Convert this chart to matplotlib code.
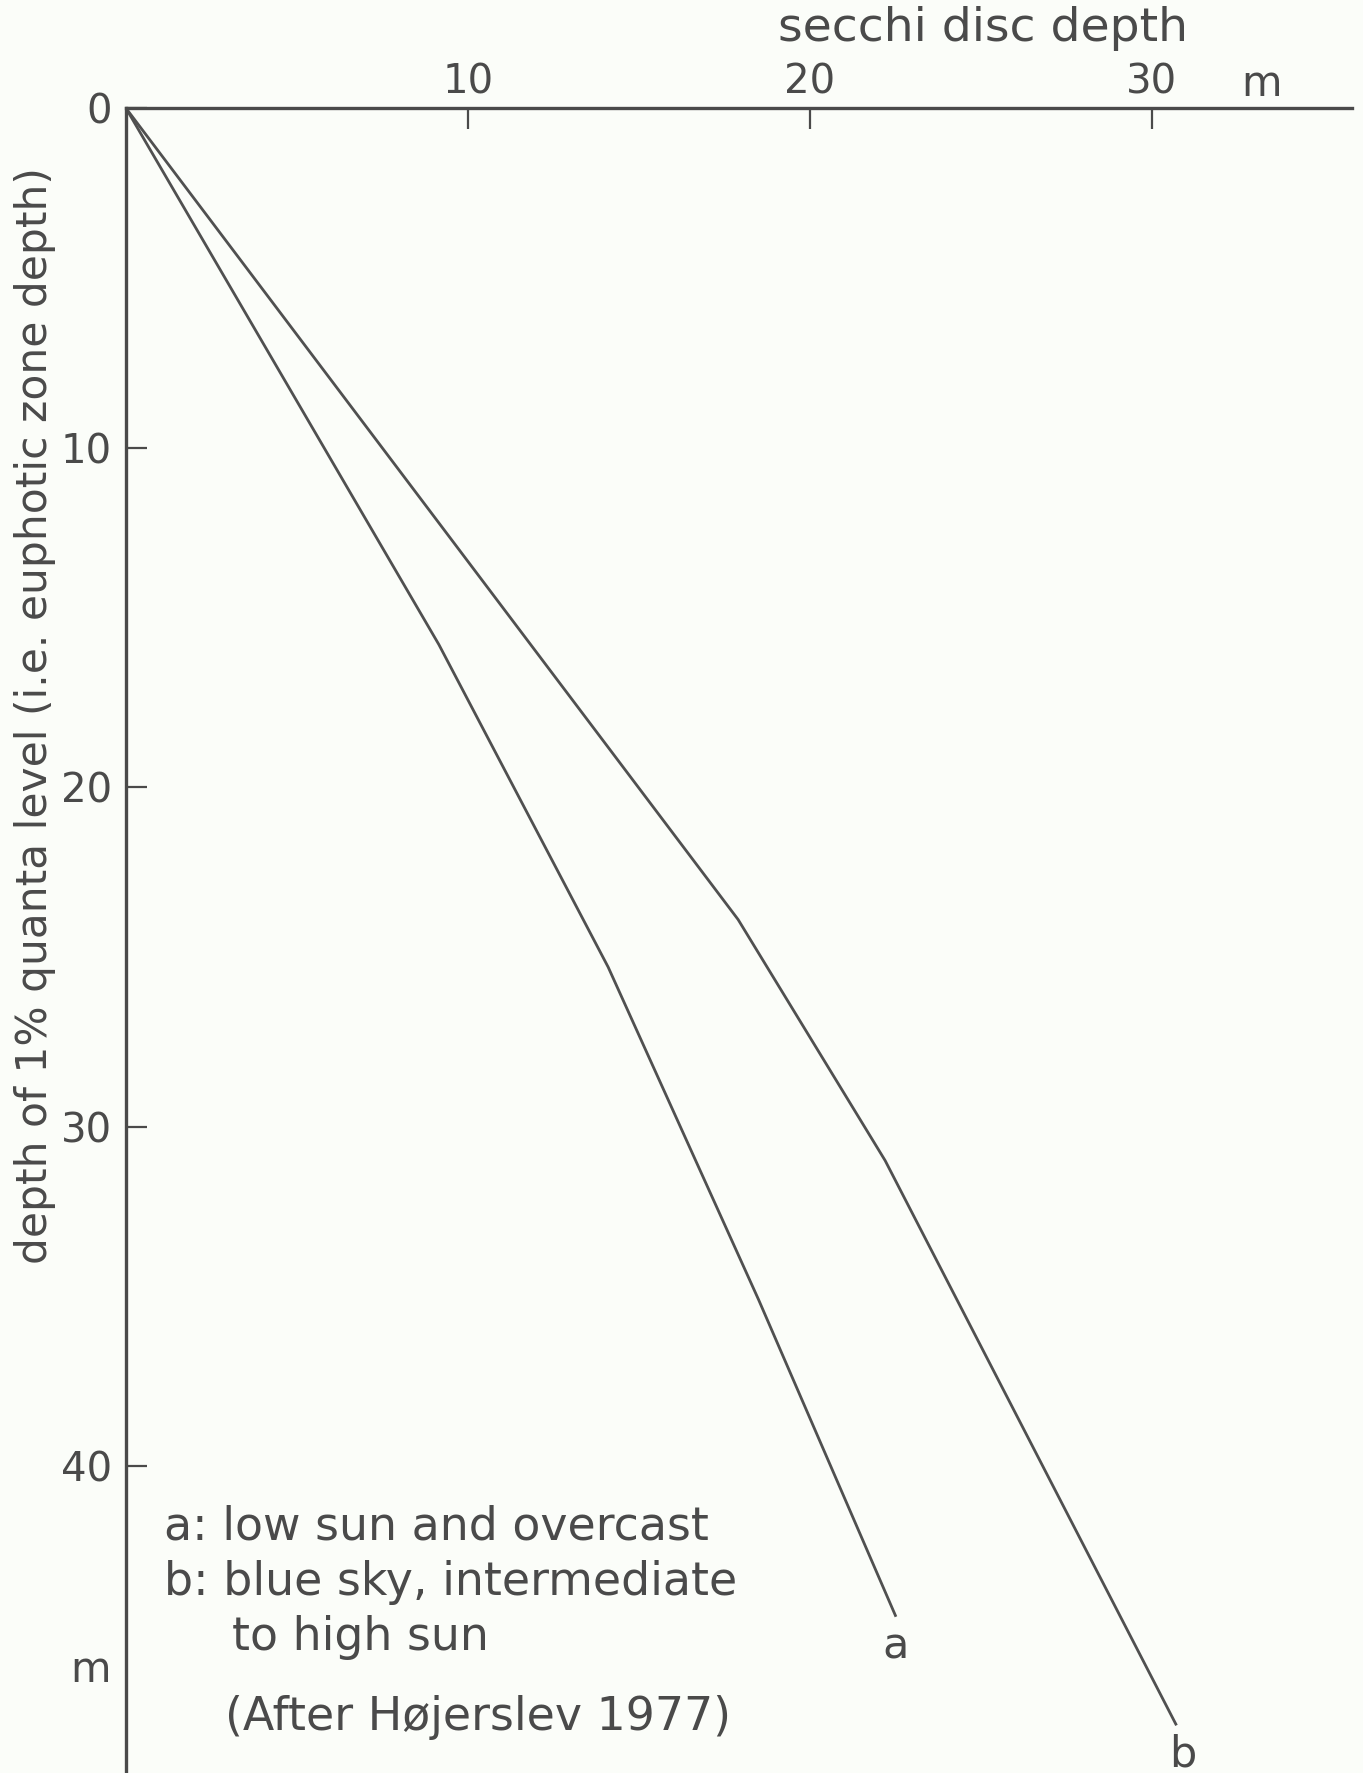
import matplotlib.pyplot as plt

# Datos
secchi_a = [0, 9.15, 14.1, 18.5, 22.5]
depth_a = [0, 15.8, 25.3, 35.1, 44.4]
secchi_b = [0, 17.9, 22.2, 30.7]
depth_b = [0, 23.9, 31.0, 47.6]
x_ticks = [10, 20, 30]
y_ticks = [0, 10, 20, 30, 40]
legend_lines = ['a: low sun and overcast', 'b: blue sky, intermediate']
legend_cont = 'to high sun'
source = '(After Højerslev 1977)'

ink = '#4a4a4a'
bg = '#fbfdf9'

fig = plt.figure(figsize=(13.63, 17.73), dpi=100, facecolor=bg)
ax = fig.add_axes([0.0924, 0.0, 0.8995, 0.939])
ax.set_facecolor(bg)

ax.plot(secchi_a, depth_a, color='#505050', lw=2.0, solid_joinstyle='miter')
ax.plot(secchi_b, depth_b, color='#505050', lw=2.0, solid_joinstyle='miter')

ax.set_xlim(0, 35.85)
ax.set_ylim(49.04, 0)

for s in ['right', 'bottom']:
    ax.spines[s].set_visible(False)
for s in ['top', 'left']:
    ax.spines[s].set_color(ink)
    ax.spines[s].set_linewidth(2.4)

ax.xaxis.tick_top()
ax.set_xticks(x_ticks)
ax.set_xticklabels([str(v) for v in x_ticks])
ax.set_yticks(y_ticks)
ax.set_yticklabels([str(v) for v in y_ticks])
ax.tick_params(axis='both', direction='in', length=15, width=1.6, color=ink,
               labelsize=29, labelcolor=ink)
ax.tick_params(axis='x', pad=4)
ax.tick_params(axis='y', pad=10)

# unidades
ax.text(33.2, -0.72, 'm', fontsize=30, color=ink, ha='center', va='center')
ax.text(-1.05, 46.0, 'm', fontsize=30, color=ink, ha='center', va='center')

ax.set_ylabel('depth of 1% quanta level (i.e. euphotic zone depth)', fontsize=30.5, color=ink)
ax.yaxis.label.set_va('center')
ax.yaxis.set_label_coords(-0.074, 0.635)
fig.text(0.721, 0.984, 'secchi disc depth', fontsize=34, color=ink, ha='center', va='center')

# etiquetas de curvas
ax.text(22.5, 45.3, 'a', fontsize=31, color=ink, ha='center', va='center')
ax.text(30.9, 48.5, 'b', fontsize=31, color=ink, ha='center', va='center')

# leyenda
for i, line in enumerate(legend_lines):
    ax.text(1.1, 41.8 + i * 1.62, line, fontsize=33, color=ink, ha='left', va='center')
ax.text(3.1, 41.8 + 2 * 1.62, legend_cont, fontsize=33, color=ink, ha='left', va='center')
ax.text(2.9, 47.4, source, fontsize=33, color=ink, ha='left', va='center')

fig.savefig('out.png', dpi=100, facecolor=bg)
